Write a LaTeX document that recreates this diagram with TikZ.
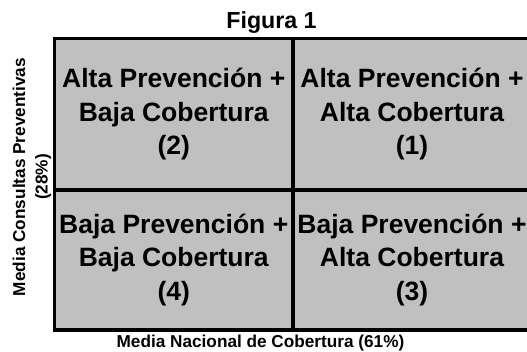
\documentclass[tikz,border=0pt]{standalone}
\usepackage{fontspec}
\setmainfont{Liberation Sans}
\definecolor{cellgray}{HTML}{C0C0C0}
\begin{document}
\begin{tikzpicture}[x=1pt,y=-1pt,
  cell/.style={draw=black, line width=3.5pt, fill=cellgray, inner sep=0pt,
    minimum width=#1, align=center,
    font=\fontsize{26.5}{33.5}\selectfont\bfseries},
  toprow/.style={minimum height=151.5pt},
  botrow/.style={minimum height=140pt},
  axislabel/.style={font=\fontsize{17.2}{22.5}\selectfont\bfseries, inner sep=0pt, align=center},
  titlelabel/.style={font=\fontsize{23.2}{26}\selectfont\bfseries, inner sep=0pt}]
\useasboundingbox (0,0) rectangle (527,352);
\node[cell=238.5pt, toprow] (q2) at (173.75,114.25) {Alta Prevención +\\Baja Cobertura\\(2)};
\node[cell=238pt, toprow] (q1) at (412,114.25) {Alta Prevención +\\Alta Cobertura\\(1)};
\node[cell=238.5pt, botrow] (q4) at (173.75,260) {Baja Prevención +\\Baja Cobertura\\(4)};
\node[cell=238pt, botrow] (q3) at (412,260) {Baja Prevención +\\Alta Cobertura\\(3)};
\node[titlelabel, anchor=base] (title) at (271.5,28.5) {Figura 1};
\node[axislabel, anchor=base] (xlab) at (260.5,348) {Media Nacional de Cobertura (61\%)};
\node[axislabel, rotate=90] (ylab) at (32,177) {Media Consultas Preventivas\\(28\%)};
\end{tikzpicture}
\end{document}
